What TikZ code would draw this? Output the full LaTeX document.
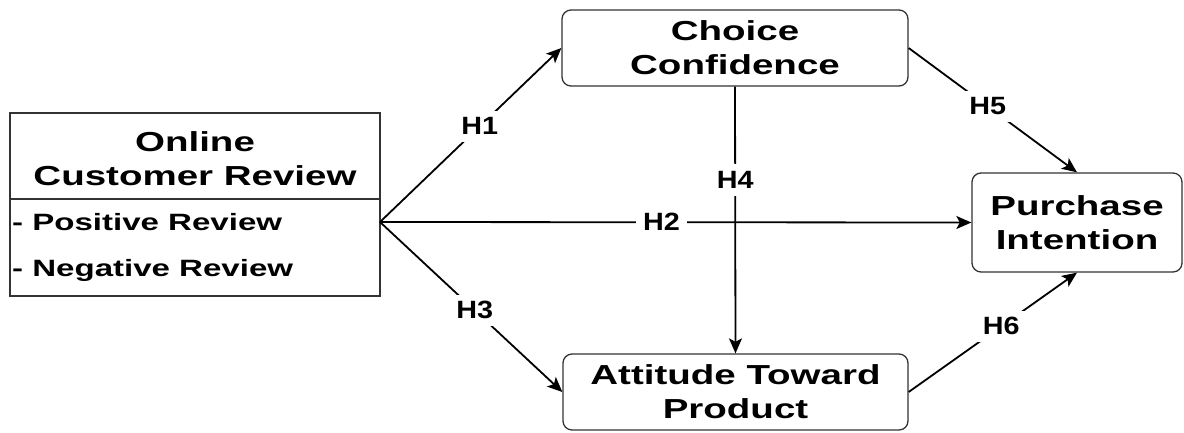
\documentclass[tikz,border=0pt]{standalone}
\usepackage{fontspec}
\setmainfont[FakeStretch=1.4]{Liberation Sans}
\newfontfamily\labfont[FakeStretch=1.15]{Liberation Sans}
\usetikzlibrary{arrows.meta}
\begin{document}
\begin{tikzpicture}[x=1pt,y=-1pt,
  boxline/.style={draw=black!80, line width=1.3pt},
  rbox/.style={boxline, rounded corners=9pt, align=center, inner sep=0pt,
    font=\fontsize{27.5}{34}\selectfont\bfseries},
  title/.style={align=center, inner sep=0pt, font=\fontsize{27.5}{34}\selectfont\bfseries},
  item/.style={inner sep=0pt, anchor=base west, font=\fontsize{23.6}{28}\selectfont\bfseries},
  conn/.style={line width=1.8pt, draw=black, -{Stealth[length=15pt,width=13pt,inset=3.5pt]}},
  lab/.style={fill=white, inner sep=7pt, font=\labfont\fontsize{25}{30}\selectfont\bfseries}
]
\useasboundingbox (0,0) rectangle (1184,432);

% left box
\node[boxline, minimum width=370pt, minimum height=183pt, inner sep=0pt] (ocr) at (195,204.5) {};
\coordinate (divL) at (10,199);
\coordinate (divR) at (380,199);
\draw[boxline] (divL) -- (divR);
\node[title] (ocrt) at (195,159) {Online\\Customer Review};
\node[item] (pos) at (12,230) {- Positive Review};
\node[item] (neg) at (12,276) {- Negative Review};
\coordinate (src) at (380,222);

% other boxes
\node[rbox, minimum width=346pt, minimum height=76pt] (cc) at (735,48) {Choice\\Confidence};
\node[rbox, minimum width=345pt, minimum height=76pt] (atp) at (735.5,392) {Attitude Toward\\Product};
\node[rbox, minimum width=210pt, minimum height=99pt] (pi) at (1077,222.5) {Purchase\\Intention};

% connectors
\draw[conn] (src) -- node[lab, pos=0.55] (h1) {H1} (cc.west);
\draw[conn] (src) -- node[lab, pos=0.476] (h2) {H2} (pi.west);
\draw[conn] (src) -- node[lab, pos=0.52] (h3) {H3} (atp.west);
\draw[conn] (cc.south) -- node[lab, pos=0.35] (h4) {H4} (atp.north);
\draw[conn] (cc.east) -- node[lab, pos=0.47] (h5) {H5} (pi.north);
\draw[conn] (atp.east) -- node[lab, pos=0.55] (h6) {H6} (pi.south);
\end{tikzpicture}
\end{document}
